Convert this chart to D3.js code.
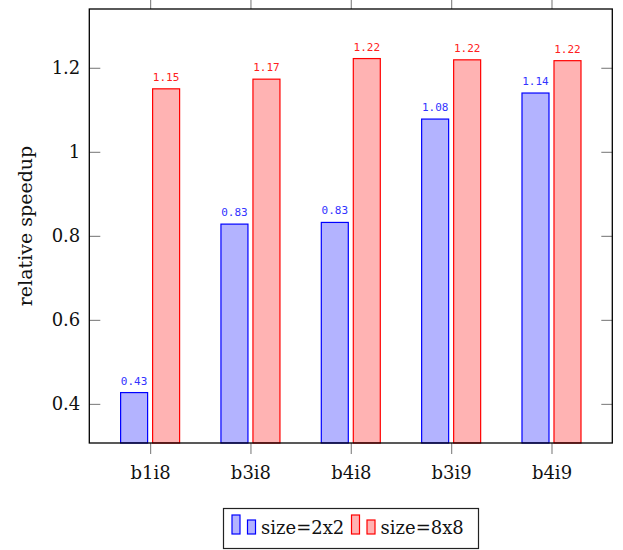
<!DOCTYPE html>
<html>
<head>
<meta charset="utf-8">
<script src="https://cdn.jsdelivr.net/npm/d3@7"></script>
<style>
  html, body { margin: 0; padding: 0; background: #fff; }
  svg { display: block; }
</style>
</head>
<body>
<script>
const categories = ["b1i8", "b3i8", "b4i8", "b3i9", "b4i9"];
const size2x2 = [0.427, 0.828, 0.832, 1.078, 1.140];
const size8x8 = [1.150, 1.173, 1.222, 1.219, 1.217];
const labels2x2 = ["0.43", "0.83", "0.83", "1.08", "1.14"];
const labels8x8 = ["1.15", "1.17", "1.22", "1.22", "1.22"];
const yTicks = [0.4, 0.6, 0.8, 1, 1.2];
const seriesNames = ["size=2x2", "size=8x8"];

const W = 623, H = 550;
const pL = 89.3, pR = 612.3, pT = 9, pB = 443;
const serif = "'DejaVu Serif', 'Liberation Serif', serif";
const mono = "'DejaVu Sans Mono', 'Liberation Mono', monospace";

const svg = d3.select("body").append("svg").attr("width", W).attr("height", H);

const x = d3.scalePoint().domain(categories).range([pL, pR]).padding(0.606);
const y = d3.scaleLinear().domain([0.307, 1.340]).range([pB, pT]);

const barW = 27, off = 16;
const series = [
  { name: seriesNames[0], vals: size2x2, labels: labels2x2, fill: "#b3b3ff", stroke: "#0000ff", text: "#3333ff", dx: -off },
  { name: seriesNames[1], vals: size8x8, labels: labels8x8, fill: "#ffb3b3", stroke: "#ff0000", text: "#ff2020", dx: off }
];

// bars
series.forEach(s => {
  const g = svg.append("g");
  g.selectAll("rect").data(categories).join("rect")
    .attr("x", (c) => x(c) + s.dx - barW / 2)
    .attr("y", (c, i) => y(s.vals[i]))
    .attr("width", barW)
    .attr("height", (c, i) => pB - y(s.vals[i]))
    .attr("fill", s.fill)
    .attr("stroke", s.stroke)
    .attr("stroke-width", 1.2);
  g.selectAll("text").data(categories).join("text")
    .attr("x", (c) => x(c) + s.dx)
    .attr("y", (c, i) => y(s.vals[i]) - 8)
    .attr("text-anchor", "middle")
    .attr("font-family", mono)
    .attr("font-size", 11)
    .attr("fill", s.text)
    .text((c, i) => s.labels[i]);
});

// ticks
const tickColor = "#8a8a8a";
const yAxisL = d3.axisLeft(y).tickValues(yTicks).tickSizeInner(-11).tickSizeOuter(0).tickFormat(d3.format("~g"));
const gL = svg.append("g").attr("transform", `translate(${pL},0)`).call(yAxisL);
gL.select(".domain").remove();
gL.selectAll(".tick line").attr("stroke", tickColor).attr("stroke-width", 1.2);
gL.selectAll(".tick text").attr("x", -9).attr("font-family", serif).attr("font-size", 18).attr("fill", "#111");

const yAxisR = d3.axisRight(y).tickValues(yTicks).tickSizeInner(-11).tickSizeOuter(0).tickFormat("");
const gR = svg.append("g").attr("transform", `translate(${pR},0)`).call(yAxisR);
gR.select(".domain").remove();
gR.selectAll(".tick line").attr("stroke", tickColor).attr("stroke-width", 1.2);

const xAxisB = d3.axisBottom(x).tickSizeInner(11).tickSizeOuter(0);
const gB = svg.append("g").attr("transform", `translate(0,${pB})`).call(xAxisB);
gB.select(".domain").remove();
gB.selectAll(".tick line").attr("stroke", tickColor).attr("stroke-width", 1.2);
gB.selectAll(".tick text").attr("y", 23).attr("dy", "0.71em").attr("font-family", serif).attr("font-size", 18).attr("fill", "#111");

const xAxisT = d3.axisTop(x).tickSizeInner(11).tickSizeOuter(0).tickFormat("");
const gT = svg.append("g").attr("transform", `translate(0,${pT})`).call(xAxisT);
gT.select(".domain").remove();
gT.selectAll(".tick line").attr("stroke", tickColor).attr("stroke-width", 1.2);

// frame
svg.append("rect").attr("x", pL).attr("y", pT).attr("width", pR - pL).attr("height", pB - pT)
  .attr("fill", "none").attr("stroke", "#000").attr("stroke-width", 1.3);

// y title
svg.append("text")
  .attr("transform", `translate(32,${(pT + pB) / 2}) rotate(-90)`)
  .attr("text-anchor", "middle")
  .attr("font-family", serif).attr("font-size", 19).attr("fill", "#111")
  .text("relative speedup");

// legend
const lg = svg.append("g");
lg.append("rect").attr("x", 223.5).attr("y", 508.5).attr("width", 255).attr("height", 40)
  .attr("fill", "#fff").attr("stroke", "#222").attr("stroke-width", 1.2);
const legendX = [232, 351.5];
series.forEach((s, i) => {
  const lx = legendX[i];
  lg.append("rect").attr("x", lx).attr("y", 515).attr("width", 8).attr("height", 19)
    .attr("fill", s.fill).attr("stroke", s.stroke).attr("stroke-width", 1.2);
  lg.append("rect").attr("x", lx + 15.5).attr("y", 520).attr("width", 8).attr("height", 14)
    .attr("fill", s.fill).attr("stroke", s.stroke).attr("stroke-width", 1.2);
  lg.append("text").attr("x", lx + 29).attr("y", 534)
    .attr("font-family", serif).attr("font-size", 18).attr("fill", "#111")
    .text(s.name);
});
</script>
</body>
</html>
